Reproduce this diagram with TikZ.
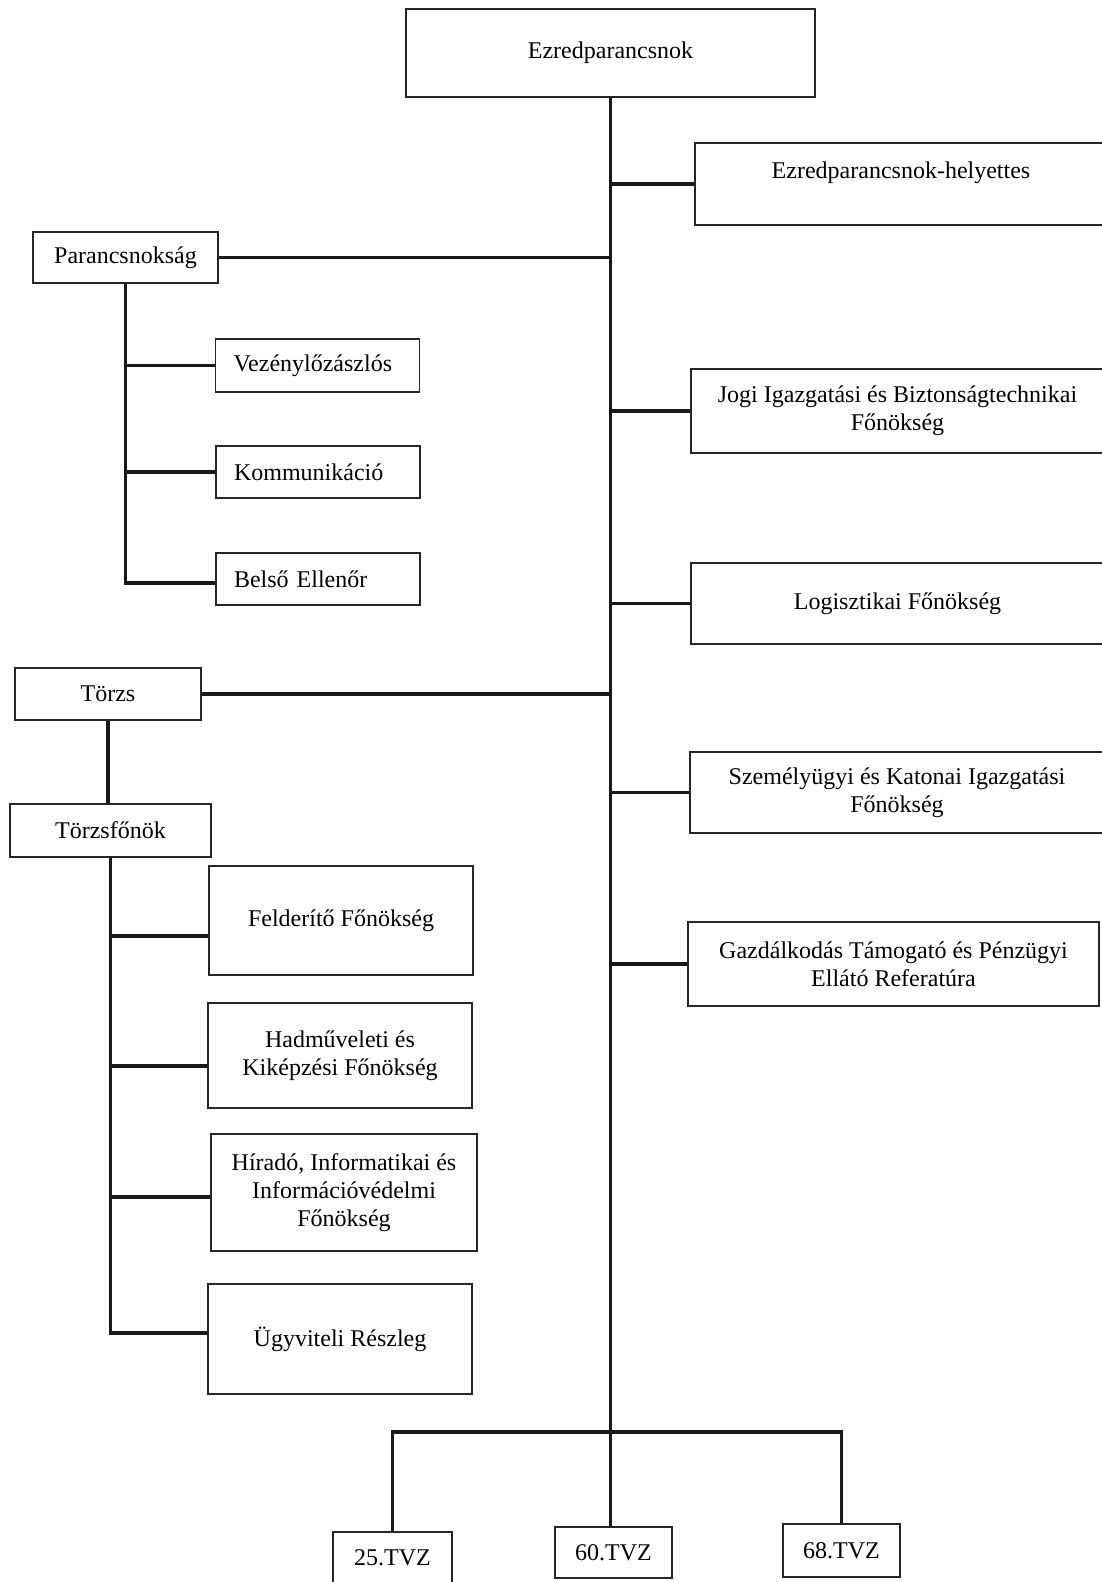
\documentclass[tikz,border=0pt]{standalone}
\usepackage{fontspec}
\setmainfont{Liberation Serif}
\usepackage{tikz}
\tikzstyle{chart}=[x=0.5pt,y=-0.5pt]
\tikzstyle{unit}=[rectangle, draw=black!85, line width=0.8pt, fill=white, inner sep=2pt, align=center, font=\fontsize{12pt}{14pt}\selectfont]
\tikzstyle{lunit}=[unit, align=left, text width=84pt, inner xsep=9pt]
\tikzstyle{link}=[-, line width=1.8pt, draw=black!90]
\tikzset{wh/.style 2 args={minimum width=#1*0.5pt, minimum height=#2*0.5pt}}

\begin{document}
\begin{tikzpicture}[chart]
  \useasboundingbox (0,0) rectangle (1101,1582);

  %The commander
  \draw (610.5,53) node[unit, wh={409}{88}] (ezred) {Ezredparancsnok};

  %The right column
  \draw (901,184) node[unit, wh={412}{82}, text depth=13.6pt] (hely) {Ezredparancsnok-helyettes};
  \draw (897.5,411) node[unit, wh={413}{84}] (jogi) {Jogi Igazgatási és Biztonságtechnikai\\Főnökség};
  \draw (897.5,603.5) node[unit, wh={413}{81}] (logi) {Logisztikai Főnökség};
  \draw (897,792.5) node[unit, wh={414}{81}] (szem) {Személyügyi és Katonai Igazgatási\\Főnökség};
  \draw (893.5,964) node[unit, wh={411}{84}] (gazd) {Gazdálkodás Támogató és Pénzügyi\\Ellátó Referatúra};

  %Parancsnokság
  \draw (125.5,257.5) node[unit, wh={185}{51}] (parancs) {Parancsnokság};
  \draw (317.5,365.5) node[lunit, wh={203}{53}] (vezeny) {Vezénylőzászlós};
  \draw (318,472) node[lunit, wh={204}{52}] (komm) {Kommunikáció};
  \draw (318,579) node[lunit, wh={204}{52}] (belso) {Belső Ellenőr};

  %Törzs
  \draw (108,694) node[unit, wh={186}{52}] (torzs) {Törzs};
  \draw (110.5,830.5) node[unit, wh={201}{53}] (fonok) {Törzsfőnök};
  \draw (341,920.5) node[unit, wh={264}{109}] (feld) {Felderítő Főnökség};
  \draw (340,1055.5) node[unit, wh={264}{105}] (hadm) {Hadműveleti és\\Kiképzési Főnökség};
  \draw (344,1192.5) node[unit, wh={266}{117}] (hirado) {Híradó, Informatikai és\\Információvédelmi\\Főnökség};
  \draw (340,1339) node[unit, wh={264}{110}] (ugyv) {Ügyviteli Részleg};

  %The battalions
  \draw (392.5,1558) node[unit, wh={119}{52}] (tvz25) {25.TVZ};
  \draw (613.5,1552.5) node[unit, wh={117}{51}] (tvz60) {60.TVZ};
  \draw (841.5,1550.5) node[unit, wh={117}{53}] (tvz68) {68.TVZ};
  \coordinate (bus) at (610,1432);

  %The main line
  \draw[link] (ezred.south) -- (ezred.south |- tvz60.north);
  \foreach \n in {hely, jogi, logi, szem, gazd}
    \draw[link] (\n.west) -- (\n.west -| ezred.south);
  \draw[link] (parancs.east) -- (parancs.east -| ezred.south);
  \draw[link] (torzs.east) -- (torzs.east -| ezred.south);
  \draw[link] (tvz25.north) |- (bus) -| (tvz68.north);

  %The left branches
  \draw[link] (parancs.south) |- ([yshift=-2pt]belso.west);
  \draw[link] (vezeny.west) -- (vezeny.west -| parancs.south);
  \draw[link] (komm.west) -- (komm.west -| parancs.south);
  \draw[link] (torzs.south) -- (torzs.south |- fonok.north);
  \draw[link] (fonok.south) |- ([yshift=3pt]ugyv.west);
  \foreach \n/\dy in {feld/-7.75pt, hadm/-5.25pt, hirado/-2.25pt}
    \draw[link] ([yshift=\dy]\n.west) -- ([yshift=\dy]\n.west -| fonok.south);
\end{tikzpicture}
\end{document}
